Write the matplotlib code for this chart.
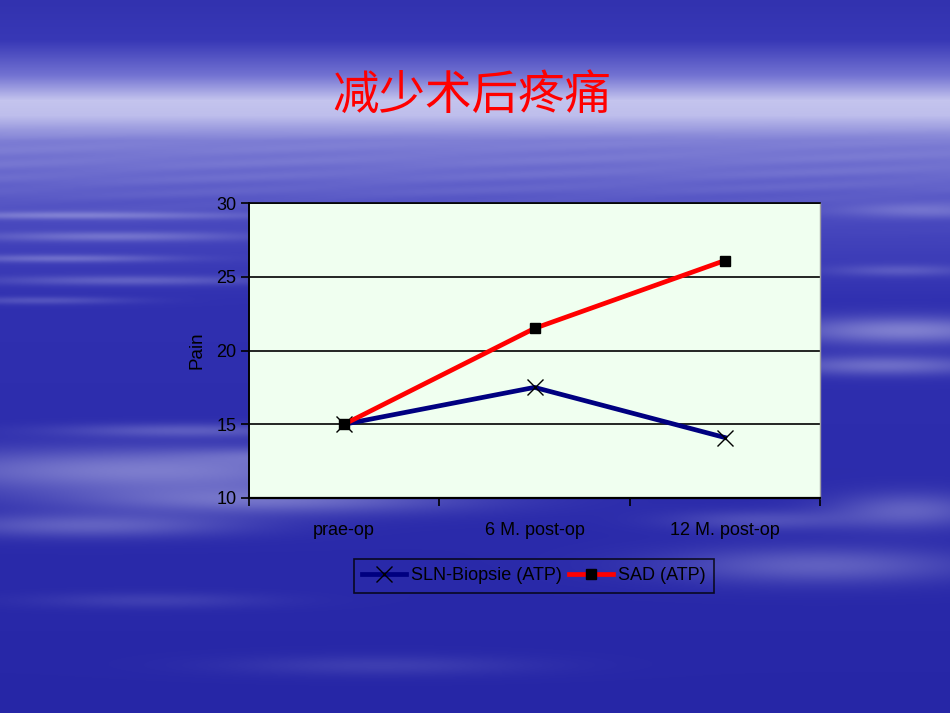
import numpy as np
import matplotlib
matplotlib.use("Agg")
import matplotlib.pyplot as plt

# ---- data ----
categories = ["prae-op", "6 M. post-op", "12 M. post-op"]
sln_biopsie = [15.0, 17.5, 14.1]
sad = [15.0, 21.5, 26.1]
series_names = ["SLN-Biopsie (ATP)", "SAD (ATP)"]
y_ticks = [10, 15, 20, 25, 30]
title_text = "减少术后疼痛"
y_label = "Pain"

W, H = 950, 713
fig = plt.figure(figsize=(W / 100, H / 100), dpi=100)

# ---- background (sky with clouds) ----
yy, xx = np.mgrid[0:H, 0:W].astype(float)
anch_y = [0, 40, 75, 100, 115, 140, 180, 220, 300, 713]
anch_r = [50, 56, 115, 196, 190, 125, 98, 72, 48, 38]
anch_b = [175, 182, 210, 238, 236, 212, 202, 190, 176, 166]
r = np.interp(yy, anch_y, anch_r)
b = np.interp(yy, anch_y, anch_b)
img = np.stack([r, r, b], axis=-1)

# soft horizontal streaks in the haze band
streak = (0.5 + 0.5 * np.sin(yy * 0.45 + 0.015 * xx) * np.sin(xx * 0.011 + yy * 0.03))
band = np.exp(-((yy - 170) / 40.0) ** 2)
a_streak = 0.09 * streak * band

clouds = [
    (80, 215, 160, 4, 0.35), (110, 236, 130, 5, 0.3), (60, 258, 110, 4, 0.3),
    (130, 280, 140, 5, 0.25), (40, 300, 90, 4, 0.2),
    (905, 330, 120, 14, 0.45), (885, 365, 110, 10, 0.35), (925, 210, 80, 7, 0.25),
    (900, 270, 70, 6, 0.2),
    (150, 470, 250, 22, 0.45), (260, 500, 200, 14, 0.35), (90, 525, 150, 12, 0.3),
    (190, 430, 130, 7, 0.25), (320, 455, 120, 8, 0.2),
    (820, 565, 150, 18, 0.3), (910, 510, 80, 18, 0.3), (760, 520, 90, 10, 0.2),
    (380, 665, 150, 10, 0.12), (150, 600, 120, 8, 0.12),
]
alpha = a_streak.copy()
for cx, cy, sx, sy, amp in clouds:
    alpha += amp * np.exp(-(((xx - cx) / sx) ** 2 + ((yy - cy) / sy) ** 2))
alpha = np.clip(alpha, 0, 0.85)[..., None]
white = np.array([222, 222, 246], dtype=float)
img = img * (1 - alpha) + white * alpha
img = np.clip(img / 255.0, 0, 1)

bg = fig.add_axes([0, 0, 1, 1], zorder=-10)
bg.imshow(img, aspect="auto", interpolation="bilinear")
bg.axis("off")

# ---- title ----
fig.text(472 / W, 1 - 96 / H, title_text, color="#ff0000", fontsize=33.5,
         family=["Noto Sans CJK SC", "DejaVu Sans"], ha="center", va="center")

# ---- chart ----
left, right, top, bottom = 249, 820, 203, 498
ax = fig.add_axes([left / W, 1 - bottom / H, (right - left) / W, (bottom - top) / H])
ax.set_facecolor("#f0fff0")

x = np.arange(len(categories))
ax.plot(x, sln_biopsie, color="#000080", lw=3.4, marker="x", ms=11,
        mec="black", mew=1.0, label=series_names[0], zorder=3)
ax.plot(x, sad, color="#ff0000", lw=3.4, marker="s", ms=6.5,
        mec="black", mfc="black", label=series_names[1], zorder=4)

ax.set_xlim(-0.5, len(categories) - 0.5)
ax.set_ylim(10, 30)
ax.set_yticks(y_ticks)
ax.set_yticklabels([str(t) for t in y_ticks])
ax.yaxis.grid(True, color="black", lw=1.2)
ax.set_axisbelow(True)

ax.set_xticks(np.arange(-0.5, len(categories), 1.0))
ax.set_xticklabels([])
ax.set_xticks(x, minor=True)
ax.set_xticklabels(categories, minor=True)
ax.tick_params(axis="x", which="minor", length=0, pad=17)
ax.tick_params(axis="x", which="major", length=6, width=1.2, color="black")
ax.tick_params(axis="y", length=6, width=1.2, color="black", pad=3)

for lab in ax.get_xticklabels(minor=True) + ax.get_yticklabels():
    lab.set_family(["Liberation Sans", "DejaVu Sans"])
    lab.set_fontsize(13)
    lab.set_color("black")

ax.spines["left"].set_color("black")
ax.spines["left"].set_linewidth(1.4)
ax.spines["bottom"].set_color("black")
ax.spines["bottom"].set_linewidth(1.6)
ax.spines["top"].set_color("black")
ax.spines["top"].set_linewidth(1.2)
ax.spines["right"].set_color("#a0a0a0")
ax.spines["right"].set_linewidth(1.0)

ax.set_ylabel(y_label, family=["Liberation Sans", "DejaVu Sans"], fontsize=13.5,
              color="black", labelpad=8)

leg = fig.legend(loc="center", bbox_to_anchor=(534 / W, 1 - 576 / H),
                 ncol=2, frameon=True, fancybox=False, handlelength=2.4,
                 handletextpad=0.3, columnspacing=0.4, borderpad=0.45,
                 prop={"family": ["Liberation Sans", "DejaVu Sans"], "size": 13})
leg.get_frame().set_edgecolor("black")
leg.get_frame().set_facecolor("none")
leg.get_frame().set_linewidth(1.2)
for t in leg.get_texts():
    t.set_color("black")

fig.savefig("out.png", dpi=100)
